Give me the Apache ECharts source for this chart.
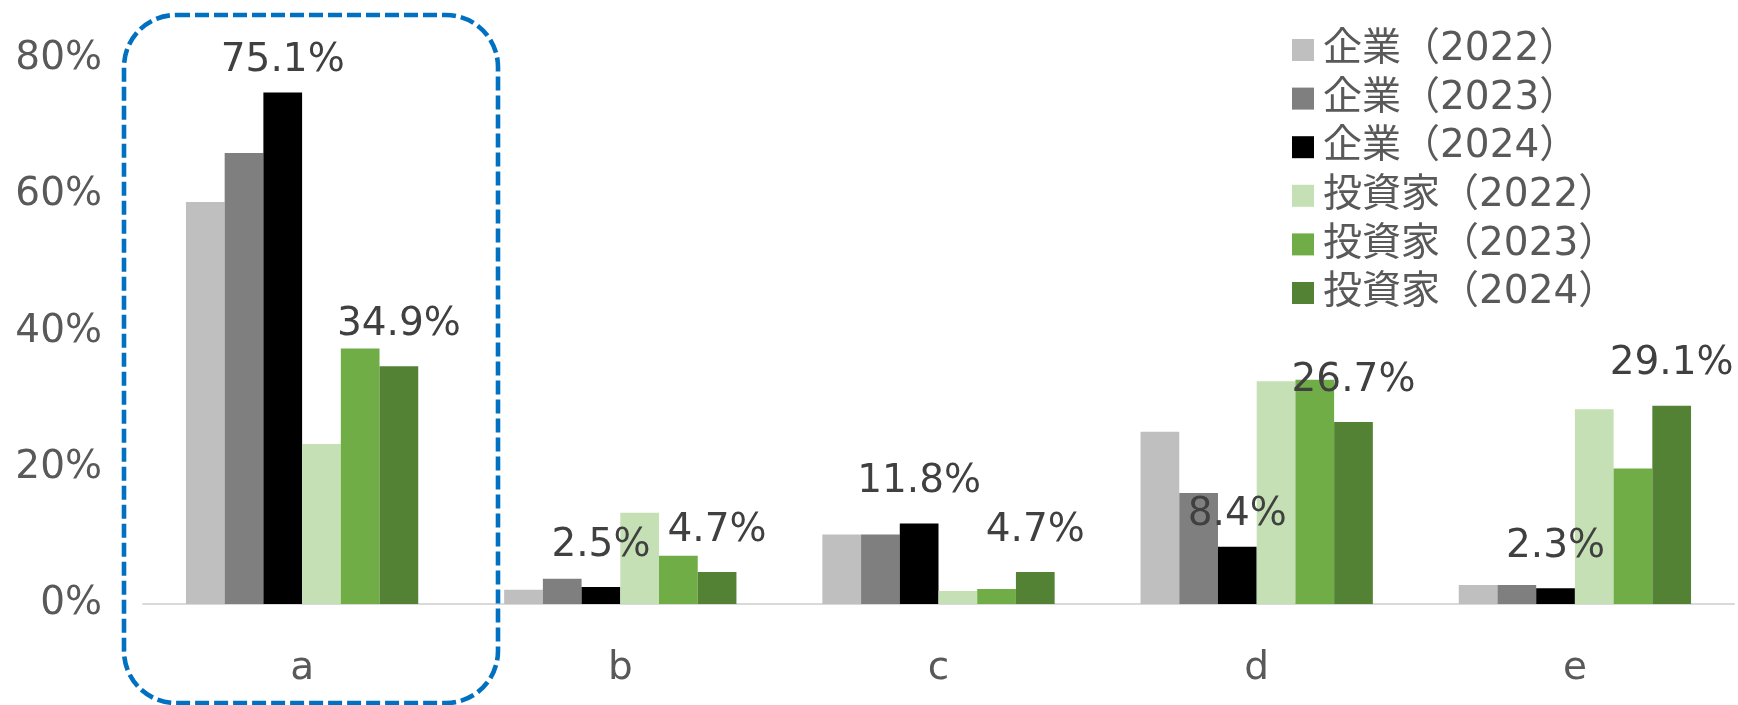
<!DOCTYPE html>
<html><head><meta charset="utf-8">
<script src="https://cdn.jsdelivr.net/npm/echarts@6/dist/echarts.min.js"></script>
<style>html,body{margin:0;padding:0;background:#fff}#c{width:1738px;height:705px}</style>
</head><body><div id="c"></div>
<script>
const categories = ['a', 'b', 'c', 'd', 'e'];
const seriesNames = ['企業（2022）', '企業（2023）', '企業（2024）', '投資家（2022）', '投資家（2023）', '投資家（2024）'];
const kigyo2022 = [59.0, 2.1, 10.2, 25.3, 2.8];
const kigyo2023 = [66.2, 3.7, 10.2, 16.3, 2.8];
const kigyo2024 = [75.1, 2.5, 11.8, 8.4, 2.3];
const toshika2022 = [23.5, 13.4, 1.9, 32.7, 28.6];
const toshika2023 = [37.5, 7.1, 2.2, 32.9, 19.9];
const toshika2024 = [34.9, 4.7, 4.7, 26.7, 29.1];
const yTicks = [0, 20, 40, 60, 80];

const colors = ['#BFBFBF', '#7F7F7F', '#000000', '#C5E0B4', '#70AD47', '#548235'];
const allData = [kigyo2022, kigyo2023, kigyo2024, toshika2022, toshika2023, toshika2024];
const labelled = [false, false, true, false, false, true];
const FONT = '"DejaVu Sans", "Noto Sans CJK JP", sans-serif';
// labels that were hand-moved closer to their bars in the original (series index -> category indices)
const loweredLabels = {2: [0, 3]};

function buildData(i) {
  return allData[i].map((v, j) => {
    const lowered = loweredLabels[i] && loweredLabels[i].indexOf(j) >= 0;
    return lowered ? {value: v, label: {offset: [0, 10]}} : v;
  });
}

const chart = echarts.init(document.getElementById('c'), null, {renderer: 'canvas'});
chart.setOption({
  animation: false,
  backgroundColor: '#ffffff',
  textStyle: {fontFamily: FONT},
  grid: {left: 143, right: 4, top: 59, bottom: 101, containLabel: false},
  legend: {
    orient: 'vertical', left: 1287, top: 25,
    itemWidth: 22, itemHeight: 22, itemGap: 8.6,
    icon: 'rect',
    data: seriesNames,
    textStyle: {fontSize: 39, color: '#595959', fontFamily: FONT, lineHeight: 40, padding: [0, 0, 0, 4]}
  },
  xAxis: {
    type: 'category', data: categories,
    axisLine: {show: true, lineStyle: {color: '#D9D9D9', width: 2}},
    axisTick: {show: false},
    axisLabel: {fontSize: 39, color: '#595959', fontFamily: FONT, margin: 45}
  },
  yAxis: {
    type: 'value', min: yTicks[0], max: yTicks[yTicks.length - 1], interval: yTicks[1] - yTicks[0],
    axisLine: {show: false}, axisTick: {show: false}, splitLine: {show: false},
    axisLabel: {fontSize: 39, color: '#595959', fontFamily: FONT, margin: 41, padding: [16, 0, 0, 0], formatter: '{value}%'}
  },
  series: seriesNames.map((name, i) => ({
    name, type: 'bar', data: buildData(i),
    barGap: '0%', barCategoryGap: '27%',
    itemStyle: {color: colors[i]},
    label: {
      show: labelled[i], position: 'top', distance: 22,
      fontSize: 39, color: '#404040', fontFamily: FONT,
      formatter: p => p.value.toFixed(1) + '%'
    }
  })),
  graphic: [{
    type: 'rect', z: 100,
    shape: {x: 124, y: 15, width: 374, height: 688, r: 52},
    style: {fill: 'none', stroke: '#0070C0', lineWidth: 4.6, lineDash: [14, 5]}
  }]
});
</script></body></html>
